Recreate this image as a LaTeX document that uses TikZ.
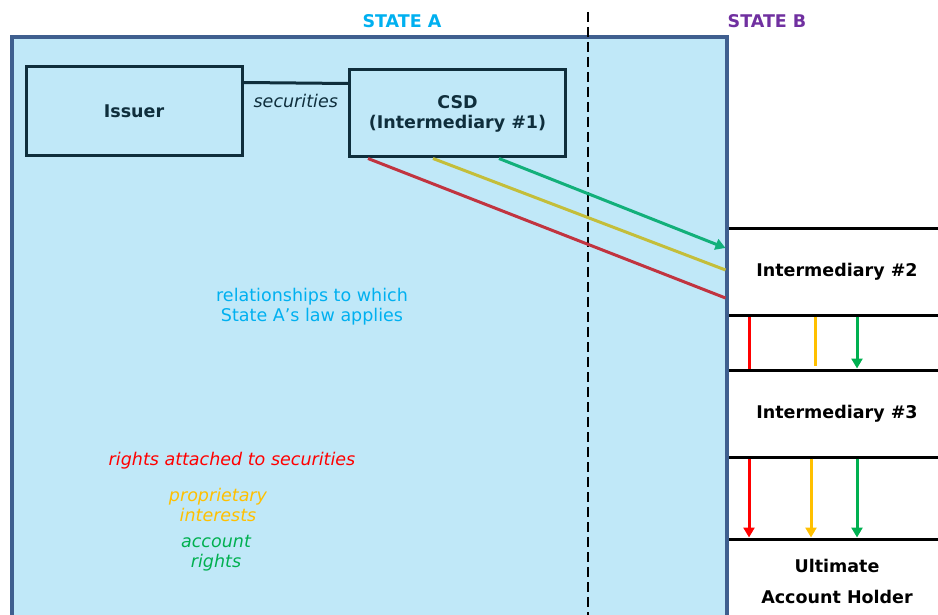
\documentclass[tikz,border=0pt]{standalone}
\usepackage{fontspec}
\setmainfont{DejaVu Sans}
\usetikzlibrary{arrows.meta,positioning}
\definecolor{lawfill}{HTML}{C0E8F8}
\definecolor{lawline}{HTML}{3F5F8F}
\definecolor{boxline}{HTML}{0F2E3C}
\definecolor{stateAcol}{HTML}{00B0F0}
\definecolor{stateBcol}{HTML}{7030A0}
\definecolor{diagred}{HTML}{C13440}
\definecolor{diagyellow}{HTML}{C4BE3A}
\definecolor{diaggreen}{HTML}{12B07A}
\definecolor{rightsred}{HTML}{FF0000}
\definecolor{propamber}{HTML}{FFC000}
\definecolor{accgreen}{HTML}{00B050}
\tikzset{party/.style={draw=boxline, line width=3pt, fill=lawfill, text=boxline,
    font=\bfseries\fontsize{17.5}{20}\selectfont, align=center, minimum width=216pt},
tier/.style={draw=black, line width=3pt, fill=white, minimum width=220pt,
    font=\bfseries\fontsize{17.5}{20}\selectfont, align=center},
statelabel/.style={font=\bfseries\fontsize{17.5}{20}\selectfont},
kind/.style={font=\itshape\fontsize{17.5}{20}\selectfont, align=center}
}

\begin{document}
\begin{tikzpicture}[x=1pt, y=-1pt, > = {Triangle[length=10pt,width=11pt]},
    font=\fontsize{17.5}{20}\selectfont]
       \useasboundingbox (0,0) rectangle (938,615);
       \clip (0,0) rectangle (938,615);

       \node[tier, minimum height=86pt] (int_2) at (837, 272) {Intermediary \#2};
       \node[tier, minimum height=87pt] (int_3) at (837, 413.5) {Intermediary \#3};
       \node[tier, minimum height=84pt, font=\bfseries\fontsize{17.5}{31}\selectfont]
           (uah) at (837, 581) {Ultimate\\Account Holder};

       \draw[lawline, line width=3.5pt, fill=lawfill] (12,37) rectangle (727,650);
       \draw[black, line width=2.5pt, dash pattern=on 10pt off 5pt] (588,12) -- (588,615);

       \node[statelabel, text=stateAcol] (state_a) at (402, 21) {STATE A};
       \node[statelabel, text=stateBcol] (state_b) at (767, 21) {STATE B};

       \node[party, minimum height=89pt] (issuer) at (134, 111.5) {\raisebox{-2pt}{Issuer}};
       \node[party, minimum height=87pt] (csd) at (457.5, 113.5) {CSD\\(Intermediary \#1)};

       \draw[boxline, line width=3pt] ([yshift=-17pt]issuer.north east)
           -- node[below=6pt, kind, text=boxline] {securities} ([yshift=-15pt]csd.north west);

       \path[line width=3pt]
           ([xshift=20pt]csd.south west) edge[diagred] ([yshift=-26pt]int_2.west)
           ([xshift=85pt]csd.south west) edge[diagyellow] ([yshift=2pt]int_2.west)
           ([xshift=151pt]csd.south west) edge[diaggreen, ->] ([yshift=24pt]int_2.west);

       \path[line width=3pt]
           ([xshift=-88pt]int_2.south) edge[rightsred] ([xshift=-88pt]int_3.north)
           ([xshift=-22pt]int_2.south) edge[propamber, shorten >=3pt] ([xshift=-22pt]int_3.north)
           ([xshift=20pt]int_2.south) edge[accgreen, ->] ([xshift=20pt]int_3.north)
           ([xshift=-88pt]int_3.south) edge[rightsred, ->] ([xshift=-88pt]uah.north)
           ([xshift=-26pt]int_3.south) edge[propamber, ->] ([xshift=-26pt]uah.north)
           ([xshift=20pt]int_3.south) edge[accgreen, ->] ([xshift=20pt]uah.north);

       \node[align=center, text=stateAcol] (law_note) at (312, 307)
           {relationships to which\\State A’s law applies};
       \node[kind, text=rightsred] (key_rights) at (232, 461) {rights attached to securities};
       \node[kind, text=propamber] (key_prop) at (218, 505) {proprietary\\interests};
       \node[kind, text=accgreen] (key_acc) at (216, 553) {account\\rights};
   \end{tikzpicture}
\end{document}
